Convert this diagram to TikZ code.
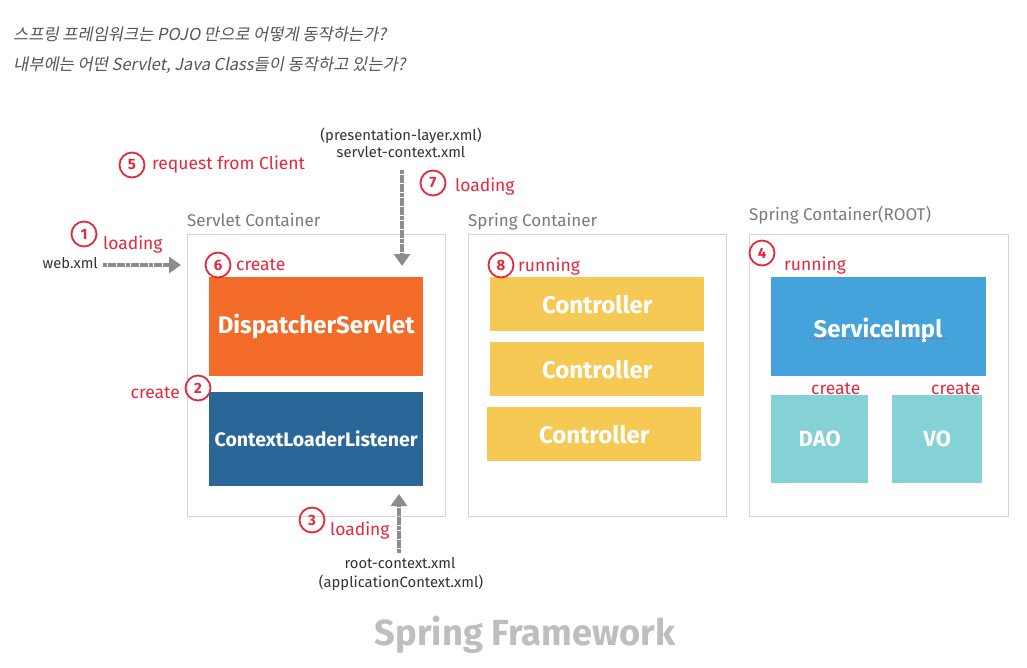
\documentclass[tikz,border=0pt]{standalone}
\usepackage{fontspec}
\setmainfont{Fira Sans}
\newfontfamily\kr[FakeSlant=0.2]{Noto Sans CJK KR}
\usetikzlibrary{arrows.meta}
\definecolor{redc}{HTML}{E5283C}
\definecolor{orangec}{HTML}{F26B29}
\definecolor{bluec}{HTML}{2A6698}
\definecolor{yellowc}{HTML}{F6C955}
\definecolor{skyc}{HTML}{43A3DA}
\definecolor{tealc}{HTML}{84D1D6}
\definecolor{framec}{HTML}{D4D4D4}
\definecolor{labelc}{HTML}{7A7A7A}
\definecolor{arrowc}{HTML}{8C8C8C}
\definecolor{sfc}{HTML}{BEBEBE}
\definecolor{krc}{HTML}{555555}
\definecolor{darkc}{HTML}{333333}
\tikzset{
  container/.style={draw=framec, line width=1.2pt, anchor=north west, inner sep=0pt},
  box/.style={anchor=north west, inner sep=0pt},
  boxtext/.style={text=white, font=\bfseries\fontsize{24}{24}\selectfont},
  numc/.style={circle, draw=redc, line width=1.8pt, minimum size=25pt, inner sep=0pt, text=redc, font=\bfseries\fontsize{15}{15}\selectfont},
  redlbl/.style={text=redc, inner sep=0pt, font=\fontsize{17.5}{17.5}\selectfont},
  graylbl/.style={text=labelc, inner sep=0pt, anchor=base west, font=\fontsize{17}{17}\selectfont},
  filelbl/.style={text=darkc, inner sep=0pt, font=\fontsize{14.8}{14.8}\selectfont},
  garrow/.style={draw=arrowc, line width=3.5pt, dash pattern=on 4pt off 0.6pt, -{Triangle[length=12pt,width=16pt]}},
  krlbl/.style={text=krc, inner sep=0pt, anchor=base west, font=\kr\fontsize{16.5}{16.5}\selectfont}
}
\begin{document}
\begin{tikzpicture}[x=1pt,y=-1pt]
\path[use as bounding box, fill=white] (0,0) rectangle (1027,668);

% question text
\node[krlbl] (q1) at (13,41) {스프링 프레임워크는 POJO 만으로 어떻게 동작하는가?};
\node[krlbl] (q2) at (13,71) {내부에는 어떤 Servlet, Java Class들이 동작하고 있는가?};

% containers
\node[container, minimum width=258pt, minimum height=282pt] (sc) at (187,234) {};
\node[container, minimum width=258pt, minimum height=282pt] (spc) at (468,234) {};
\node[container, minimum width=259pt, minimum height=282pt] (root) at (749,234) {};
\node[graylbl] (scl) at (187,226) {Servlet Container};
\node[graylbl] (spcl) at (468,226) {Spring Container};
\node[graylbl] (rootl) at (749,221) {Spring Container(ROOT)};

% boxes
\node[box, fill=orangec, minimum width=214pt, minimum height=99pt] (ds) at (209,277) {};
\node[boxtext] (dst) at (ds.center) {DispatcherServlet};
\node[box, fill=bluec, minimum width=214pt, minimum height=94pt] (cll) at (209,392) {};
\node[boxtext, font=\bfseries\fontsize{19.5}{19.5}\selectfont] (cllt) at (cll.center) {ContextLoaderListener};

\node[box, fill=yellowc, minimum width=214pt, minimum height=54pt] (ctl1) at (490,277) {};
\node[box, fill=yellowc, minimum width=214pt, minimum height=54pt] (ctl2) at (490,342) {};
\node[box, fill=yellowc, minimum width=214pt, minimum height=54pt] (ctl3) at (487,407) {};
\node[boxtext] at (ctl1.center) {Controller};
\node[boxtext] at (ctl2.center) {Controller};
\node[boxtext] at (ctl3.center) {Controller};

\node[box, fill=skyc, minimum width=215pt, minimum height=99pt] (svc) at (771,277) {};
\node[boxtext, anchor=base] (svct) at (878,337) {ServiceImpl};
\draw[redc, line width=0.8pt, dotted] (svct.base west) ++(0,1.5) coordinate (ul1) -- (svct.base east |- ul1);
\node[box, fill=tealc, minimum width=97pt, minimum height=88pt] (dao) at (771,395) {};
\node[box, fill=tealc, minimum width=90pt, minimum height=88pt] (vo) at (892,395) {};
\node[boxtext, font=\bfseries\fontsize{22}{22}\selectfont] at (dao.center) {DAO};
\node[boxtext, font=\bfseries\fontsize{22}{22}\selectfont] at (vo.center) {VO};

% file labels
\node[filelbl, anchor=base east] (web) at (98,269) {web.xml};
\node[filelbl, anchor=base] (pres) at (401,141) {(presentation-layer.xml)};
\node[filelbl, anchor=base] (sctx) at (401,158) {servlet-context.xml};
\node[filelbl, anchor=base] (rctx) at (400,568) {root-context.xml};
\node[filelbl, anchor=base] (actx) at (401,587) {(applicationContext.xml)};

% arrows
\coordinate (webtip) at (181,265);
\draw[garrow] (web.east |- webtip) ++(5,0) -- (webtip);
\coordinate (downtip) at (402,266);
\draw[garrow] (402,170) -- (downtip);
\coordinate (uptip) at (399,494);
\draw[garrow] (399,553) -- (uptip);

% numbered steps
\node[numc] (n1) at (84,234) {1};
\node[redlbl, anchor=base west] at (103,249) {loading};
\node[numc] (n5) at (132,165) {5};
\node[redlbl, anchor=base west] at (152,170) {request from Client};
\node[numc] (n6) at (218,265) {6};
\node[redlbl, anchor=base west] at (236,270) {create};
\node[numc] (n7) at (433,183) {7};
\node[redlbl, anchor=base west] at (455,192) {loading};
\node[numc] (n8) at (501,265) {8};
\node[redlbl, anchor=base west] at (518,271) {running};
\node[numc] (n4) at (762,253) {4};
\node[redlbl, anchor=base west] at (784,270) {running};
\node[numc] (n2) at (198,388) {2};
\node[redlbl, anchor=base east] at (180,398) {create};
\node[numc] (n3) at (312,520) {3};
\node[redlbl, anchor=base west] at (330,535) {loading};
\node[redlbl, anchor=base west] at (811,394) {create};
\node[redlbl, anchor=base west] at (931,394) {create};

% title
\node[text=sfc, inner sep=0pt, anchor=base] (sf) at (525,645) {\resizebox{300pt}{!}{\bfseries Spring Framework}};
\end{tikzpicture}
\end{document}
